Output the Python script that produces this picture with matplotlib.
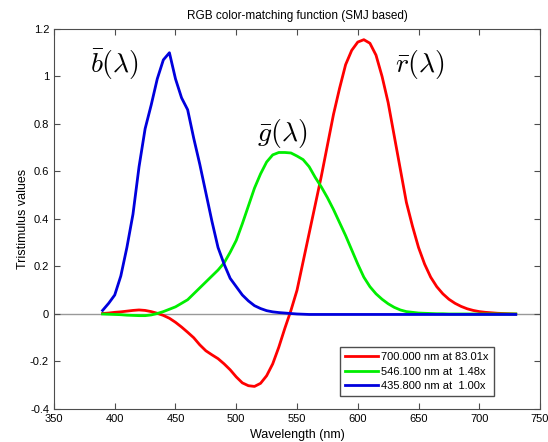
#!/usr/bin/env python3

import numpy as np
import matplotlib
matplotlib.use('Agg')
import matplotlib.pyplot as plt
from matplotlib.ticker import FormatStrFormatter

plt.rcParams['font.family'] = ['Liberation Sans', 'DejaVu Sans']
plt.rcParams['mathtext.fontset'] = 'cm'
plt.rcParams['axes.unicode_minus'] = False

# Longitudes de onda (nm), paso de 5 nm
wl = np.arange(390, 735, 5)

r_bar = [0.002, 0.004, 0.007, 0.009, 0.012, 0.015, 0.017, 0.015, 0.010, 0.003,
         -0.006, -0.018, -0.035, -0.055, -0.077, -0.100, -0.130, -0.155, -0.172, -0.188,
         -0.210, -0.235, -0.265, -0.290, -0.302, -0.305, -0.292, -0.260, -0.210, -0.140,
         -0.060, 0.015, 0.100, 0.220, 0.340, 0.460, 0.580, 0.710, 0.840, 0.950,
         1.050, 1.110, 1.145, 1.155, 1.140, 1.090, 1.000, 0.890, 0.750, 0.610,
         0.470, 0.370, 0.280, 0.210, 0.155, 0.115, 0.085, 0.062, 0.045, 0.032,
         0.022, 0.015, 0.010, 0.007, 0.005, 0.003, 0.002, 0.001, 0.000]

g_bar = [0.000, -0.001, -0.002, -0.003, -0.005, -0.006, -0.007, -0.007, -0.004, 0.002,
         0.010, 0.020, 0.030, 0.045, 0.060, 0.085, 0.110, 0.135, 0.160, 0.185,
         0.215, 0.260, 0.310, 0.380, 0.455, 0.530, 0.590, 0.640, 0.670, 0.680,
         0.680, 0.678, 0.665, 0.650, 0.620, 0.575, 0.535, 0.490, 0.440, 0.385,
         0.330, 0.270, 0.210, 0.155, 0.115, 0.085, 0.062, 0.043, 0.028, 0.017,
         0.010, 0.007, 0.004, 0.003, 0.002, 0.001, 0.001, 0.000, 0.000, 0.000,
         0.000, 0.000, 0.000, 0.000, 0.000, 0.000, 0.000, 0.000, 0.000]

b_bar = [0.015, 0.045, 0.080, 0.160, 0.280, 0.420, 0.620, 0.780, 0.880, 0.990,
         1.070, 1.100, 0.990, 0.910, 0.860, 0.740, 0.630, 0.510, 0.390, 0.280,
         0.210, 0.150, 0.115, 0.080, 0.055, 0.035, 0.023, 0.014, 0.009, 0.006,
         0.004, 0.002, 0.000, -0.001, -0.002, -0.002, -0.002, -0.002, -0.002, -0.002,
         -0.002, -0.002, -0.002, -0.002, -0.002, -0.002, -0.002, -0.002, -0.002, -0.002,
         -0.002, -0.002, -0.002, -0.002, -0.002, -0.002, -0.002, -0.002, -0.002, -0.002,
         -0.002, -0.002, -0.002, -0.002, -0.002, -0.002, -0.002, -0.002, -0.002]

leyendas = ['700.000 nm at 83.01x', '546.100 nm at  1.48x', '435.800 nm at  1.00x']

fig = plt.figure(figsize=(5.48, 4.42), dpi=100)
ax = fig.add_axes([0.0985, 0.0747, 0.887, 0.8597])

ax.axhline(0, color='0.6', lw=1, zorder=1)
ax.plot(wl, r_bar, color='#ff0000', lw=2, label=leyendas[0])
ax.plot(wl, g_bar, color='#00ee00', lw=2, label=leyendas[1])
ax.plot(wl, b_bar, color='#0000dd', lw=2, label=leyendas[2])

ax.text(400, 1.05, r'$\bar{b}(\lambda)$', fontsize=20, ha='center', va='center')
ax.text(538, 0.76, r'$\bar{g}(\lambda)$', fontsize=20, ha='center', va='center')
ax.text(651, 1.05, r'$\bar{r}(\lambda)$', fontsize=20, ha='center', va='center')

ax.set_xlim(350, 750)
ax.set_ylim(-0.4, 1.2)
ax.set_xticks(np.arange(350, 751, 50))
ax.set_yticks(np.arange(-0.4, 1.21, 0.2))
ax.yaxis.set_major_formatter(FormatStrFormatter('%g'))
ax.tick_params(direction='in', top=True, right=True, labelsize=8, length=4,
               color='0.3')
for s in ax.spines.values():
    s.set_color('0.3')
    s.set_linewidth(0.8)

ax.set_title('RGB color-matching function (SMJ based)', fontsize=8.5, pad=7)
ax.set_xlabel('Wavelength (nm)', fontsize=9)
ax.set_ylabel('Tristimulus values', fontsize=9, labelpad=1)

ax.legend(loc='lower right', bbox_to_anchor=(0.905, 0.034), borderaxespad=0,
          fontsize=8, fancybox=False, edgecolor='0.3', framealpha=1,
          handlelength=3, borderpad=0.45, labelspacing=0.4, handletextpad=0.3)

fig.savefig('out.png', dpi=100)
